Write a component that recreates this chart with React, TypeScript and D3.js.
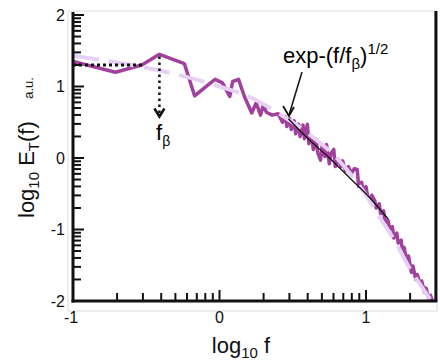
import React from "react";
import * as d3 from "d3";

// log10 f, log10 E_T(f)
const spectrum: [number, number][] = [
  [-1.0, 1.35], [-0.71, 1.2], [-0.53, 1.3], [-0.41, 1.45], [-0.24, 1.32],
  [-0.17, 0.87], [-0.08, 1.02], [-0.03, 1.1], [0.02, 1.05], [0.07, 0.86],
  [0.09, 1.07], [0.13, 1.1], [0.17, 0.86], [0.22, 0.63], [0.25, 0.77],
  [0.28, 0.6], [0.3, 0.74], [0.32, 0.64], [0.36, 0.6], [0.4, 0.62],
  [0.43, 0.5], [0.45, 0.58], [0.46, 0.44], [0.48, 0.55], [0.49, 0.4],
  [0.51, 0.52], [0.52, 0.34], [0.54, 0.47], [0.55, 0.3], [0.57, 0.46],
  [0.58, 0.27], [0.6, 0.47], [0.61, 0.2], [0.63, 0.3], [0.64, 0.12],
  [0.66, 0.26], [0.67, 0.08], [0.69, -0.03], [0.7, 0.16], [0.72, 0.02],
  [0.73, 0.19], [0.75, -0.08], [0.76, 0.06], [0.78, 0.12], [0.79, -0.12],
  [0.81, -0.02], [0.83, -0.12], [0.84, -0.04], [0.86, -0.18], [0.88, -0.12],
  [0.9, -0.22], [0.92, -0.15], [0.94, -0.16], [0.95, -0.4], [0.97, -0.34],
  [0.98, -0.46], [1.0, -0.4], [1.01, -0.52], [1.03, -0.62], [1.04, -0.52],
  [1.06, -0.6], [1.07, -0.7], [1.09, -0.64], [1.1, -0.78], [1.12, -0.74],
  [1.13, -0.9], [1.15, -0.87], [1.16, -0.99], [1.18, -0.96], [1.19, -1.12],
  [1.21, -1.05], [1.22, -1.19], [1.24, -1.15], [1.25, -1.35], [1.26, -1.25],
  [1.28, -1.47], [1.29, -1.37], [1.31, -1.6], [1.32, -1.51], [1.34, -1.7],
  [1.35, -1.63], [1.37, -1.77], [1.38, -1.72], [1.4, -1.88], [1.41, -1.82],
  [1.43, -1.98], [1.44, -1.92], [1.46, -2.04],
];

// dashed smooth trend
const trend: [number, number][] = [
  [-1.0, 1.43], [-0.8, 1.37], [-0.6, 1.3], [-0.4, 1.22], [-0.2, 1.12],
  [0.0, 1.0], [0.2, 0.86], [0.4, 0.63], [0.6, 0.35], [0.8, 0.0],
  [1.0, -0.52], [1.1, -0.85], [1.2, -1.17], [1.3, -1.55], [1.39, -1.83],
  [1.48, -2.1],
];

// thin black exp fit
const fit: [number, number][] = [
  [0.47, 0.55], [0.6, 0.28], [0.75, 0.0], [0.9, -0.3], [1.0, -0.5], [1.15, -0.85],
];

const xTicks = [-1, 0, 1];
const yTicks = [-2, -1, 0, 1, 2];
const minorK = [2, 3, 4, 5, 6, 7, 8, 9];

const font = "Liberation Sans, Arial, sans-serif";

export default function App() {
  const x = d3.scaleLinear().domain([-1, 1]).range([73, 366]);
  const y = d3.scaleLinear().domain([-2, 2]).range([301, 15]);
  const x0 = x(-1), x1 = x(Math.log10(30));
  const yb = y(-2), yt = 12;

  const line = d3.line<[number, number]>().x((d) => x(d[0])).y((d) => y(d[1]));
  const smooth = d3
    .line<[number, number]>()
    .x((d) => x(d[0]))
    .y((d) => y(d[1]))
    .curve(d3.curveMonotoneX);

  const xMinor: number[] = [];
  for (let dec = -1; dec <= 1; dec++)
    minorK.forEach((k) => {
      const v = dec + Math.log10(k);
      if (x(v) < x1 - 2) xMinor.push(v);
    });
  const yMinor: number[] = [];
  for (let dec = -2; dec <= 1; dec++)
    minorK.forEach((k) => yMinor.push(dec + Math.log10(k)));

  const fx = -0.41;

  return (
    <svg
      width={440}
      height={360}
      style={{ position: "absolute", left: 0, top: 0, background: "#fff" }}
      fontFamily={font}
    >
      <defs>
        <clipPath id="plot">
          <rect x={x0} y={yt} width={x1 - x0} height={yb - yt} />
        </clipPath>
      </defs>
      <rect x={68} y={11} width={369} height={300} fill="none" stroke="#dcdcdc" strokeWidth={1} />

      <g clipPath="url(#plot)">
        <path d={line(spectrum) ?? ""} fill="none" stroke="#a2419d" strokeWidth={3.5} strokeLinejoin="round" />
        <path d={smooth(trend) ?? ""} fill="none" stroke="#e6d0f4" strokeWidth={4} strokeDasharray="26,10" />
        <path d={smooth(fit) ?? ""} fill="none" stroke="#111" strokeWidth={1.3} />
      </g>

      {/* f_beta markers */}
      <line x1={x0} x2={x(-0.52)} y1={y(1.3)} y2={y(1.3)} stroke="#111" strokeWidth={3} strokeDasharray="3,3" />
      <line x1={x(fx)} x2={x(fx)} y1={y(1.42)} y2={y(0.58)} stroke="#111" strokeWidth={2.5} strokeDasharray="2.5,3.5" />
      <polyline
        points={`${x(fx) - 5},${y(0.58) - 8} ${x(fx)},${y(0.58)} ${x(fx) + 5},${y(0.58) - 8}`}
        fill="none"
        stroke="#111"
        strokeWidth={2.5}
      />
      <text x={156} y={140} fontSize={22}>
        f<tspan fontSize={14} dy={6}>β</tspan>
      </text>

      {/* exp label and arrow */}
      <text x={283} y={63} fontSize={22}>
        exp-(f/f<tspan fontSize={15} dy={6}>β</tspan>
        <tspan dy={-6}>)</tspan>
        <tspan fontSize={15} dy={-9}>1/2</tspan>
      </text>
      <line x1={302} y1={72} x2={289} y2={115} stroke="#111" strokeWidth={1.5} />
      <polyline points="283,106 289,116 294,107" fill="none" stroke="#111" strokeWidth={1.8} />

      {/* axes */}
      <g stroke="#111" strokeWidth={2}>
        {yTicks.map((t) => (
          <line key={"ym" + t} x1={x0} x2={x0 + 11} y1={y(t)} y2={y(t)} />
        ))}
        {yMinor.map((t, i) => (
          <line key={"yn" + i} x1={x0} x2={x0 + 8} y1={y(t)} y2={y(t)} />
        ))}
        {xTicks.map((t) => (
          <line key={"xm" + t} x1={x(t)} x2={x(t)} y1={yb} y2={yb - 11} />
        ))}
        {xMinor.map((t, i) => (
          <line key={"xn" + i} x1={x(t)} x2={x(t)} y1={yb} y2={yb - 8} />
        ))}
      </g>
      <line x1={x0} x2={x0} y1={yt} y2={yb + 1.5} stroke="#111" strokeWidth={3} />
      <line x1={x0 - 1.5} x2={x1 + 1.5} y1={yb} y2={yb} stroke="#111" strokeWidth={3} />
      <line x1={x1} x2={x1} y1={11} y2={yb} stroke="#111" strokeWidth={3} />

      {yTicks.map((t) => (
        <text key={"yl" + t} x={65} y={y(t) + 5.5} fontSize={16} textAnchor="end" fill="#111">
          {t}
        </text>
      ))}
      {xTicks.map((t) => (
        <text key={"xl" + t} x={x(t) + (t < 0 ? -2 : 0)} y={323} fontSize={16} textAnchor="middle" fill="#111">
          {t}
        </text>
      ))}

      <text x={241} y={353} fontSize={22} textAnchor="middle" fill="#111">
        log<tspan fontSize={15} dy={5}>10</tspan>
        <tspan dy={-5}> f</tspan>
      </text>
      <text transform="translate(34,218) rotate(-90)" fontSize={22} fill="#111">
        log<tspan fontSize={15} dy={5}>10</tspan>
        <tspan dy={-5}> E</tspan>
        <tspan fontSize={15} dy={5}>T</tspan>
        <tspan dy={-5}>(f)</tspan>
      </text>
      <text transform="translate(33,88) rotate(-90)" fontSize={13} textAnchor="middle" fill="#111">
        a.u.
      </text>
    </svg>
  );
}
